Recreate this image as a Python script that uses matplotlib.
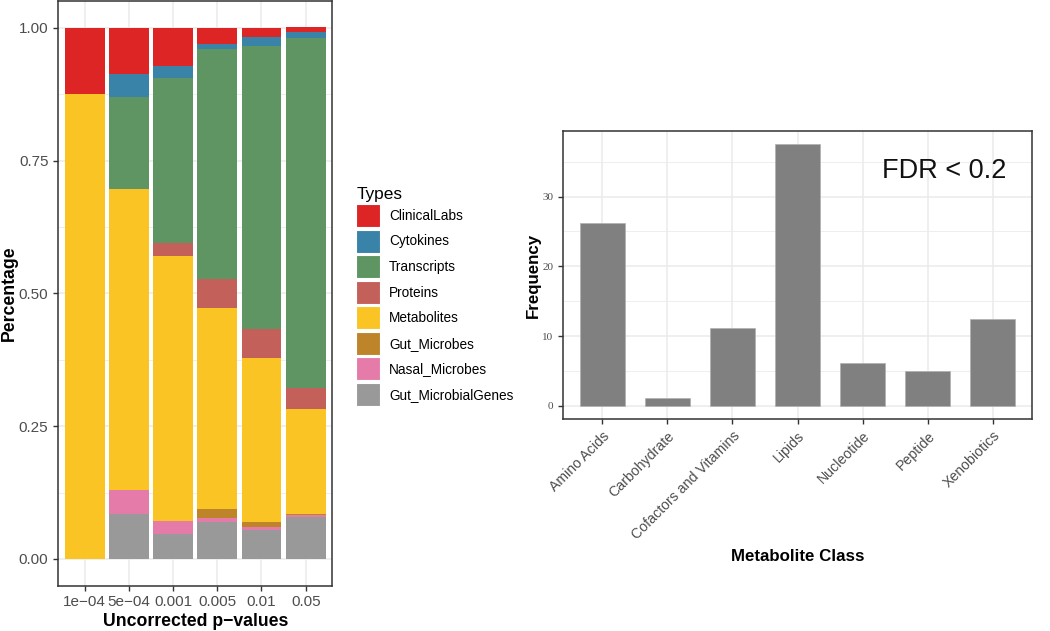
import numpy as np
import matplotlib.pyplot as plt
from matplotlib.patches import Patch
from matplotlib.ticker import MultipleLocator

plt.rcParams['font.family'] = ['Liberation Sans', 'DejaVu Sans']

# left panel: share of each data type by p-value cutoff
p_labels = ["1e\u221204", "5e\u221204", "0.001", "0.005", "0.01", "0.05"]
gut_microbial_genes = [0.0, 0.0855, 0.0465, 0.0704, 0.055, 0.0785]
nasal_microbes = [0.0, 0.0435, 0.024, 0.0076, 0.005, 0.004]
gut_microbes = [0.0, 0.0, 0.0, 0.016, 0.009, 0.002]
metabolites = [0.875, 0.567, 0.5005, 0.3775, 0.31, 0.197]
proteins = [0.0, 0.0, 0.024, 0.0555, 0.053, 0.0405]
transcripts = [0.0, 0.173, 0.31, 0.433, 0.533, 0.6595]
cytokines = [0.0, 0.044, 0.0235, 0.009, 0.017, 0.01]
clinical_labs = [0.125, 0.087, 0.0715, 0.031, 0.018, 0.009]

# right panel: metabolite classes at FDR < 0.2
met_classes = ["Amino Acids", "Carbohydrate", "Cofactors and Vitamins", "Lipids",
               "Nucleotide", "Peptide", "Xenobiotics"]
met_freq = [26.2, 1.2, 11.2, 37.5, 6.1, 5.0, 12.5]

# stacking order bottom -> top
stack = [
    ("Gut_MicrobialGenes", gut_microbial_genes, "#999999"),
    ("Nasal_Microbes", nasal_microbes, "#E57BA8"),
    ("Gut_Microbes", gut_microbes, "#BE8429"),
    ("Metabolites", metabolites, "#F9C424"),
    ("Proteins", proteins, "#C4605A"),
    ("Transcripts", transcripts, "#5E9562"),
    ("Cytokines", cytokines, "#3A83A8"),
    ("ClinicalLabs", clinical_labs, "#DD2526"),
]

grid_c = "#ebebeb"
frame_c = "#333333"
tick_c = "#4d4d4d"

fig = plt.figure(figsize=(10.5, 6.31), dpi=100)

def style_axes(ax):
    for s in ax.spines.values():
        s.set_color(frame_c)
        s.set_linewidth(1.1)
    ax.tick_params(direction='out', length=3.5, width=1.0, color=frame_c,
                   labelcolor=tick_c)
    ax.set_axisbelow(True)

# ---------- left ----------
ax1 = fig.add_axes([0.0554, 0.0721, 0.261, 0.926])
style_axes(ax1)
x = np.arange(len(p_labels))
bottom = np.zeros(len(p_labels))
for name, vals, col in stack:
    ax1.bar(x, vals, width=0.9, bottom=bottom, color=col, linewidth=0)
    bottom += np.array(vals)
ax1.set_xlim(-0.6, len(p_labels) - 0.4)
ax1.set_ylim(-0.05, 1.05)
ax1.set_xticks(x)
ax1.set_xticklabels(p_labels, fontsize=11)
ax1.set_yticks([0, 0.25, 0.5, 0.75, 1.0])
ax1.set_yticklabels(["0.00", "0.25", "0.50", "0.75", "1.00"], fontsize=11)
ax1.yaxis.set_minor_locator(MultipleLocator(0.125))
ax1.tick_params(which='minor', length=0)
ax1.grid(True, which='major', color=grid_c, linewidth=1.1)
ax1.grid(True, which='minor', axis='y', color=grid_c, linewidth=0.6)
ax1.set_ylabel("Percentage", fontsize=12.7, fontweight='bold', labelpad=1)
ax1.set_xlabel("Uncorrected p\u2212values", fontsize=12.7, fontweight='bold', labelpad=2.5)

handles = [Patch(facecolor=col, edgecolor='white', linewidth=0.8, label=name)
           for name, vals, col in reversed(stack)]
leg = fig.legend(handles=handles, title="Types", loc='upper left',
                 bbox_to_anchor=(0.334, 0.713), frameon=False, fontsize=9.8,
                 title_fontsize=12.4, handlelength=1.76, handleheight=2.22,
                 labelspacing=0.19, handletextpad=0.65, borderaxespad=0,
                 alignment='left')

# ---------- right ----------
ax2 = fig.add_axes([0.5365, 0.336, 0.4461, 0.4564])
style_axes(ax2)
xr = np.arange(len(met_classes))
ax2.bar(xr, met_freq, width=0.7, color="#808080", edgecolor="#b0b0b0", linewidth=0.5)
ax2.set_xlim(-0.6, len(met_classes) - 0.4)
ax2.set_ylim(-1.875, 39.4)
ax2.set_yticks([0, 10, 20, 30])
ax2.set_yticklabels(["0", "10", "20", "30"], fontsize=8, family='Liberation Serif')
ax2.yaxis.set_minor_locator(MultipleLocator(5))
ax2.tick_params(which='minor', length=0)
ax2.set_xticks(xr)
ax2.set_xticklabels(met_classes, rotation=45, ha='right', rotation_mode='anchor',
                    fontsize=10.2)
ax2.grid(True, which='major', color=grid_c, linewidth=1.1)
ax2.grid(True, which='minor', axis='y', color=grid_c, linewidth=0.6)
ax2.set_ylabel("Frequency", fontsize=12.2, fontweight='bold', labelpad=1.5)
ax2.set_xlabel("Metabolite Class", fontsize=12.2, fontweight='bold', labelpad=5)
ax2.text(0.945, 0.86, "FDR < 0.2", transform=ax2.transAxes, ha='right', va='center',
         fontsize=19.5, color='#111111')

fig.savefig("out.png", dpi=100)
